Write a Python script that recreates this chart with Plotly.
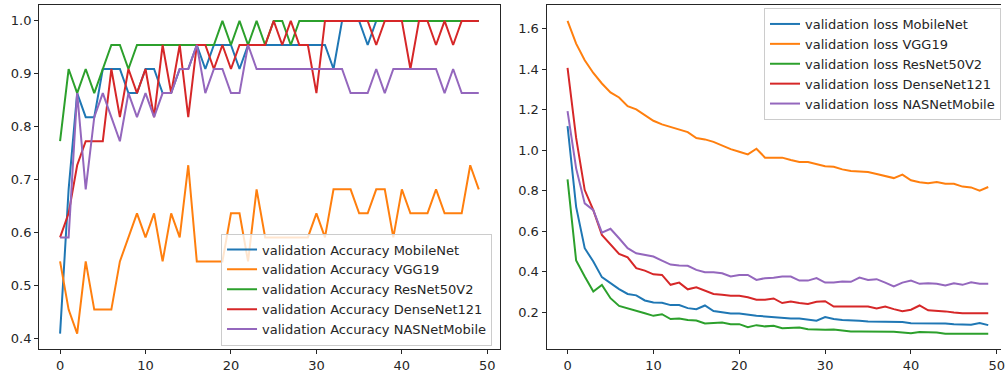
import plotly.graph_objects as go

epochs = list(range(50))

models = ["MobileNet", "VGG19", "ResNet50V2", "DenseNet121", "NASNetMobile"]
colors = ["#1f77b4", "#ff7f0e", "#2ca02c", "#d62728", "#9467bd"]

acc_mobilenet = [0.4091, 0.6818, 0.8636, 0.8182, 0.8182, 0.9091, 0.9091, 0.9091, 0.8636, 0.8636,
                 0.9091, 0.9091, 0.8636, 0.8636, 0.9091, 0.9091, 0.9545, 0.9091, 0.9545, 0.9545,
                 0.9545, 0.9091, 0.9545, 0.9545, 0.9545, 0.9545, 0.9545, 0.9545, 0.9545, 0.9545,
                 0.9545, 0.9545, 0.9091, 1.0, 1.0, 1.0, 0.9545, 1.0, 1.0, 1.0,
                 1.0, 1.0, 1.0, 1.0, 1.0, 1.0, 1.0, 1.0, 1.0, 1.0]
acc_vgg19 = [0.5455, 0.4545, 0.4091, 0.5455, 0.4545, 0.4545, 0.4545, 0.5455, 0.5909, 0.6364,
             0.5909, 0.6364, 0.5455, 0.6364, 0.5909, 0.7273, 0.5455, 0.5455, 0.5455, 0.5455,
             0.6364, 0.6364, 0.5455, 0.6818, 0.5909, 0.5909, 0.5909, 0.5909, 0.5909, 0.5909,
             0.6364, 0.5909, 0.6818, 0.6818, 0.6818, 0.6364, 0.6364, 0.6818, 0.6818, 0.5909,
             0.6818, 0.6364, 0.6364, 0.6364, 0.6818, 0.6364, 0.6364, 0.6364, 0.7273, 0.6818]
acc_resnet = [0.7727, 0.9091, 0.8636, 0.9091, 0.8636, 0.9091, 0.9545, 0.9545, 0.9091, 0.9545,
              0.9545, 0.9545, 0.9545, 0.9545, 0.9545, 0.9545, 0.9545, 0.9545, 0.9545, 1.0,
              0.9545, 1.0, 0.9545, 1.0, 0.9545, 1.0, 1.0, 0.9545, 1.0, 1.0,
              1.0, 1.0, 1.0, 1.0, 1.0, 1.0, 1.0, 1.0, 1.0, 1.0,
              1.0, 1.0, 1.0, 1.0, 1.0, 1.0, 1.0, 1.0, 1.0, 1.0]
acc_densenet = [0.5909, 0.6364, 0.7273, 0.7727, 0.7727, 0.7727, 0.9091, 0.8182, 0.9091, 0.8636,
                0.9091, 0.8182, 0.9545, 0.8636, 0.9545, 0.8182, 0.9545, 0.9545, 0.9091, 0.9545,
                0.9091, 0.9545, 0.9545, 0.9545, 0.9545, 1.0, 0.9545, 1.0, 0.9545, 0.9545,
                0.8636, 1.0, 1.0, 1.0, 1.0, 1.0, 1.0, 0.9545, 1.0, 1.0,
                1.0, 0.9091, 1.0, 1.0, 0.9545, 1.0, 0.9545, 1.0, 1.0, 1.0]
acc_nasnet = [0.5909, 0.5909, 0.8636, 0.6818, 0.8182, 0.8636, 0.8182, 0.7727, 0.8636, 0.8182,
              0.8636, 0.8182, 0.8636, 0.8636, 0.9091, 0.9091, 0.9545, 0.8636, 0.9091, 0.9091,
              0.8636, 0.8636, 0.9545, 0.9091, 0.9091, 0.9091, 0.9091, 0.9091, 0.9091, 0.9091,
              0.9091, 0.9091, 0.9091, 0.9091, 0.8636, 0.8636, 0.8636, 0.9091, 0.8636, 0.9091,
              0.9091, 0.9091, 0.9091, 0.9091, 0.9091, 0.8636, 0.9091, 0.8636, 0.8636, 0.8636]

loss_mobilenet = [1.119, 0.72, 0.516, 0.450, 0.373, 0.343, 0.314, 0.290, 0.283, 0.258,
                  0.248, 0.247, 0.235, 0.235, 0.220, 0.215, 0.233, 0.206, 0.199, 0.193,
                  0.193, 0.186, 0.182, 0.179, 0.175, 0.170, 0.169, 0.169, 0.164, 0.158,
                  0.176, 0.166, 0.162, 0.161, 0.158, 0.154, 0.153, 0.153, 0.151, 0.151,
                  0.146, 0.146, 0.146, 0.144, 0.144, 0.140, 0.140, 0.138, 0.146, 0.136]
loss_vgg19 = [1.638, 1.526, 1.444, 1.381, 1.329, 1.285, 1.260, 1.217, 1.201, 1.173,
              1.145, 1.127, 1.115, 1.102, 1.089, 1.060, 1.053, 1.041, 1.022, 1.005,
              0.992, 0.979, 1.007, 0.963, 0.963, 0.963, 0.951, 0.941, 0.941, 0.931,
              0.921, 0.918, 0.905, 0.897, 0.894, 0.892, 0.882, 0.872, 0.862, 0.879,
              0.851, 0.841, 0.836, 0.843, 0.834, 0.834, 0.820, 0.816, 0.800, 0.818]
loss_resnet = [0.856, 0.455, 0.376, 0.302, 0.335, 0.269, 0.231, 0.220, 0.207, 0.195,
               0.182, 0.190, 0.166, 0.169, 0.162, 0.159, 0.144, 0.146, 0.149, 0.141,
               0.141, 0.126, 0.136, 0.130, 0.133, 0.121, 0.121, 0.124, 0.116, 0.113,
               0.113, 0.115, 0.109, 0.105, 0.105, 0.105, 0.104, 0.104, 0.103, 0.100,
               0.096, 0.102, 0.100, 0.100, 0.094, 0.094, 0.095, 0.095, 0.095, 0.094]
loss_densenet = [1.406, 1.06, 0.803, 0.704, 0.581, 0.532, 0.488, 0.471, 0.417, 0.405,
                 0.387, 0.384, 0.335, 0.346, 0.313, 0.323, 0.307, 0.290, 0.286, 0.281,
                 0.281, 0.274, 0.261, 0.262, 0.268, 0.245, 0.253, 0.245, 0.241, 0.251,
                 0.254, 0.228, 0.228, 0.228, 0.228, 0.228, 0.218, 0.228, 0.215, 0.205,
                 0.212, 0.233, 0.209, 0.207, 0.204, 0.199, 0.195, 0.195, 0.195, 0.195]
loss_nasnet = [1.193, 0.91, 0.737, 0.704, 0.593, 0.612, 0.565, 0.516, 0.491, 0.483,
               0.475, 0.455, 0.435, 0.430, 0.429, 0.409, 0.397, 0.397, 0.392, 0.376,
               0.383, 0.384, 0.359, 0.368, 0.370, 0.376, 0.376, 0.356, 0.356, 0.368,
               0.346, 0.346, 0.351, 0.350, 0.371, 0.359, 0.363, 0.346, 0.327, 0.346,
               0.356, 0.340, 0.343, 0.340, 0.332, 0.343, 0.335, 0.348, 0.340, 0.340]

acc_series = [acc_mobilenet, acc_vgg19, acc_resnet, acc_densenet, acc_nasnet]
loss_series = [loss_mobilenet, loss_vgg19, loss_resnet, loss_densenet, loss_nasnet]

x_ticks = [0, 10, 20, 30, 40, 50]
acc_ticks = [0.4, 0.5, 0.6, 0.7, 0.8, 0.9, 1.0]
loss_ticks = [0.2, 0.4, 0.6, 0.8, 1.0, 1.2, 1.4, 1.6]

FONT = "DejaVu Sans"
W, H = 1005, 374

fig = go.Figure()
for name, c, ys in zip(models, colors, acc_series):
    fig.add_trace(go.Scatter(x=epochs, y=ys, mode="lines", name="validation Accuracy " + name,
                             line=dict(color=c, width=2), xaxis="x", yaxis="y", legend="legend"))
for name, c, ys in zip(models, colors, loss_series):
    fig.add_trace(go.Scatter(x=epochs, y=ys, mode="lines", name="validation loss " + name,
                             line=dict(color=c, width=2), xaxis="x2", yaxis="y2", legend="legend2"))

axis_common = dict(showgrid=False, zeroline=False, showline=True,
                   linecolor="#262626", linewidth=1, ticks="outside", ticklen=4,
                   tickcolor="#262626", tickwidth=1, ticklabeloverflow="allow",
                   tickfont=dict(family=FONT, size=13, color="#262626"))

ytop = 1 - 5.3 / H
ybot = 1 - 349.3 / H

# right panel is cropped at the image edge: x=50 sits at ~1000 px
x2_left = 548.7
x2_range_end = -2.45 + (W - x2_left) / 8.62

fig.update_layout(
    width=W, height=H,
    margin=dict(l=0, r=0, t=0, b=0),
    paper_bgcolor="white", plot_bgcolor="white",
    font=dict(family=FONT, size=13, color="#262626"),
    xaxis=dict(domain=[39.3 / W, 501.7 / W], range=[-2.45, 51.45], tickvals=x_ticks,
               anchor="y", mirror=True, **axis_common),
    yaxis=dict(domain=[ybot, ytop], range=[0.3795, 1.0295], tickvals=acc_ticks,
               tickformat=".1f", anchor="x", mirror=True, **axis_common),
    xaxis2=dict(domain=[x2_left / W, 1.0], range=[-2.45, x2_range_end], tickvals=x_ticks,
                anchor="y2", mirror=True, **axis_common),
    yaxis2=dict(domain=[ybot, ytop], range=[0.0168, 1.715], tickvals=loss_ticks,
                tickformat=".1f", anchor="x2", mirror=False, **axis_common),
    legend=dict(x=494 / W, y=1 - 345.5 / H, xanchor="right", yanchor="bottom",
                bgcolor="rgba(255,255,255,0.8)", bordercolor="#cccccc", borderwidth=1,
                font=dict(family=FONT, size=13, color="#262626"), tracegroupgap=0),
    legend2=dict(x=1.0, y=1 - 8.0 / H, xanchor="right", yanchor="top",
                 bgcolor="rgba(255,255,255,0.8)", bordercolor="#cccccc", borderwidth=1,
                 font=dict(family=FONT, size=13, color="#262626"), tracegroupgap=0),
    showlegend=True,
)

fig.write_html("out.html", config={"displayModeBar": False},
               post_script="document.body.style.margin='0';document.body.style.padding='0';")
